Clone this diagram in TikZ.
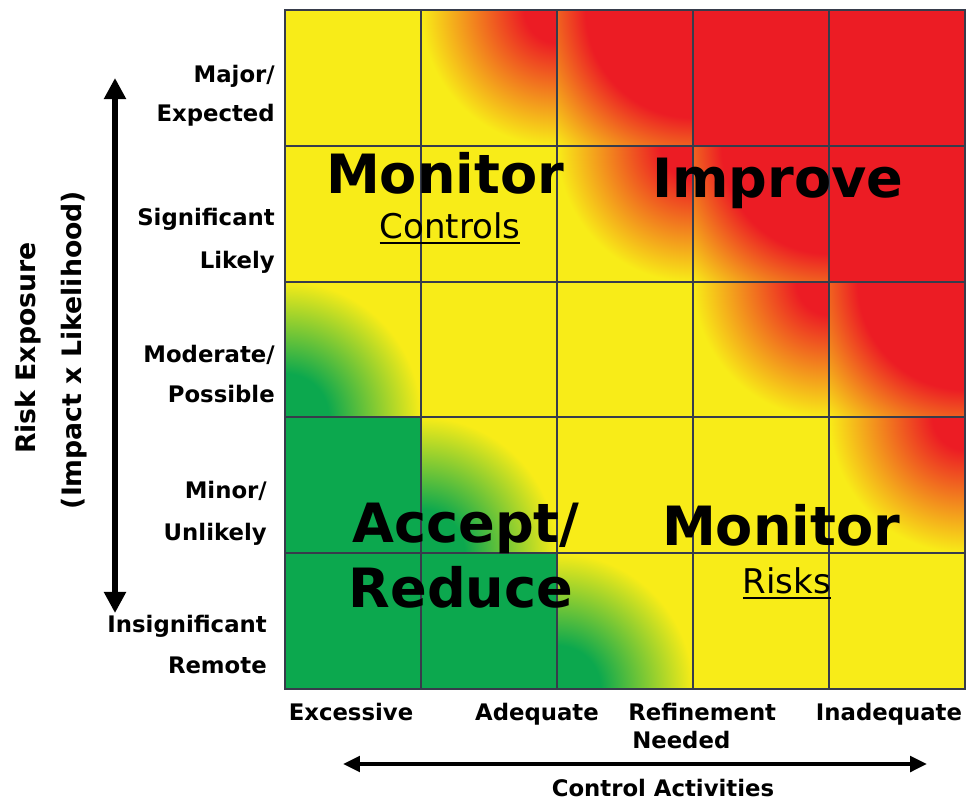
\documentclass[tikz,border=0pt]{standalone}
\usepackage{fontspec}
\setmainfont{DejaVu Sans}
\usetikzlibrary{arrows.meta}

\definecolor{riskyellow}{RGB}{248,236,24}
\definecolor{riskred}{RGB}{236,28,36}
\definecolor{riskgreen}{RGB}{12,168,78}
\definecolor{gridgray}{RGB}{55,60,75}

% corner fades (25bp = radius of the shaded circle)
\pgfdeclareradialshading{redcorner}{\pgfpoint{0bp}{0bp}}{color(0bp)=(riskred); color(6bp)=(riskred); color(25bp)=(riskyellow); color(50bp)=(riskyellow)}
\pgfdeclareradialshading{redwide}{\pgfpoint{0bp}{0bp}}{color(0bp)=(riskred); color(14bp)=(riskred); color(25bp)=(riskyellow); color(50bp)=(riskyellow)}
\pgfdeclareradialshading{greencorner}{\pgfpoint{0bp}{0bp}}{color(0bp)=(riskgreen); color(8bp)=(riskgreen); color(25bp)=(riskyellow); color(50bp)=(riskyellow)}

% thick underline
\newcommand{\thickul}[1]{\setbox0\hbox{#1}\leavevmode\rlap{\rule[-4.2pt]{\wd0}{1.4pt}}\box0}

\begin{document}
\begin{tikzpicture}[x=0.025cm, y=-0.025cm,
            gridline/.style={draw=gridgray, line width=0.9pt},
            rowlabel/.style={font=\bfseries\fontsize{16.2}{19}\selectfont, inner sep=0pt, anchor=base east},
            collabel/.style={font=\bfseries\fontsize{16.2}{19}\selectfont, inner sep=0pt, anchor=base},
            axislabel/.style={font=\bfseries\fontsize{19}{21}\selectfont, inner sep=0pt, anchor=base, rotate=90},
            zonetext/.style={font=\bfseries\fontsize{38.5}{40}\selectfont, inner sep=0pt, anchor=base},
            zonesub/.style={font=\fontsize{24.2}{26}\selectfont, inner sep=0pt, anchor=base},
            axis/.style={line width=3.6pt, {Triangle[length=15pt,width=15pt]}-{Triangle[length=15pt,width=15pt]}},
            caxis/.style={line width=2.6pt, {Triangle[length=12pt,width=11pt]}-{Triangle[length=12pt,width=11pt]}}
            ]
            \useasboundingbox (0,0) rectangle (966,803);

            % Cells
            \fill[riskyellow] (285,10) rectangle (965,689);
            \fill[riskred] (693,10) rectangle (965,146) (829,146) rectangle (965,282);
            \fill[riskgreen] (285,417) rectangle (421,689) (421,553) rectangle (557,689);
            \begin{scope}\clip (421,10) rectangle (557,146); \shade[shading=redcorner] (557,10) circle (136);\end{scope}
            \begin{scope}\clip (557,10) rectangle (693,146); \shade[shading=redwide] (693,10) circle (192);\end{scope}
            \begin{scope}\clip (557,146) rectangle (693,282); \shade[shading=redcorner] (693,146) circle (136);\end{scope}
            \begin{scope}\clip (693,146) rectangle (829,282); \shade[shading=redwide] (829,146) circle (192);\end{scope}
            \begin{scope}\clip (693,282) rectangle (829,417); \shade[shading=redcorner] (829,282) circle (136);\end{scope}
            \begin{scope}\clip (829,282) rectangle (965,417); \shade[shading=redwide] (965,282) circle (192);\end{scope}
            \begin{scope}\clip (829,417) rectangle (965,553); \shade[shading=redcorner] (965,417) circle (136);\end{scope}
            \begin{scope}\clip (285,282) rectangle (421,417); \shade[shading=greencorner] (285,417) circle (136);\end{scope}
            \begin{scope}\clip (421,417) rectangle (557,553); \shade[shading=greencorner] (421,553) circle (136);\end{scope}
            \begin{scope}\clip (557,553) rectangle (693,689); \shade[shading=greencorner] (557,689) circle (136);\end{scope}

            % Grid
            \draw[gridline] (285,10) rectangle (965,689)
                (421,10) -- (421,689) (557,10) -- (557,689) (693,10) -- (693,689) (829,10) -- (829,689)
                (285,146) -- (965,146) (285,282) -- (965,282) (285,417) -- (965,417) (285,553) -- (965,553);

            % Zone texts
            \node[zonetext] (mon1) at (445,193) {Monitor};
            \node[zonesub] (ctl) at (450,238) {\thickul{Controls}};
            \node[zonetext] (imp) at (778,197) {Improve};
            \node[zonetext] (acc) at (466,542) {Accept/};
            \node[zonetext] (rdc) at (461,607) {Reduce};
            \node[zonetext] (mon2) at (781,545) {Monitor};
            \node[zonesub] (rsk) at (787,593) {\thickul{Risks}};

            % Row labels
            \node[rowlabel] (maj) at (275,82) {Major/};
            \node[rowlabel] (expd) at (275,121) {Expected};
            \node[rowlabel] (sig) at (275,225) {Significant};
            \node[rowlabel] (lik) at (275,268) {Likely};
            \node[rowlabel] (mod) at (275,362) {Moderate/};
            \node[rowlabel] (pos) at (275,402) {Possible};
            \node[rowlabel] (mnr) at (267,498) {Minor/};
            \node[rowlabel] (unl) at (267,540) {Unlikely};
            \node[rowlabel] (ins) at (267,632) {Insignificant};
            \node[rowlabel] (rem) at (267,673) {Remote};

            % Column labels
            \node[collabel] (exc) at (351,720) {Excessive};
            \node[collabel] (adq) at (537,720) {Adequate};
            \node[collabel, anchor=base west] (rfn) at (628,720) {Refinement};
            \node[collabel, anchor=base west] (ndd) at (632,748) {Needed};
            \node[collabel] (inadq) at (889,720) {Inadequate};
            \node[collabel] (ctrl) at (663,796) {Control Activities};

            % Axis titles
            \node[axislabel] (rexp) at (35,348) {Risk Exposure};
            \node[axislabel] (ixl) at (81,350) {(Impact x Likelihood)};

            % Arrows
            \coordinate (vtop) at (115,78);
            \coordinate (vbot) at (115,613);
            \coordinate (hleft) at (343,764);
            \coordinate (hright) at (927,764);
            \draw[axis] (vbot) -- (vtop);
            \draw[caxis] (hleft) -- (hright);
\end{tikzpicture}
\end{document}
